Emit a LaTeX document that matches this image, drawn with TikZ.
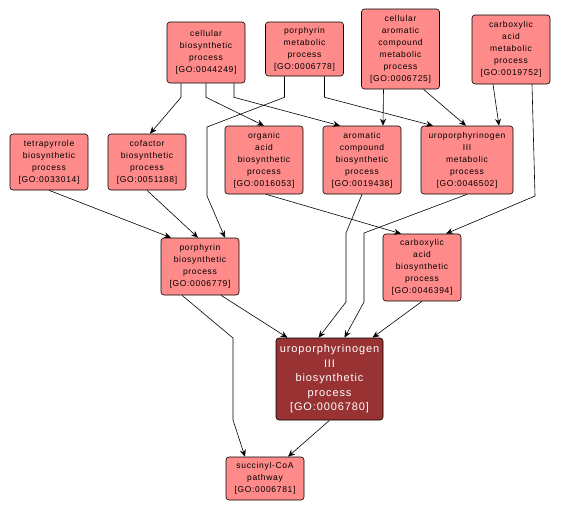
\documentclass[tikz,border=0pt]{standalone}
\usepackage{fontspec}
\newfontfamily\gofont[LetterSpace=8]{Liberation Sans}
\usetikzlibrary{arrows.meta}
\definecolor{gofill}{RGB}{255,138,138}
\definecolor{gomain}{RGB}{153,51,51}

\begin{document}
\begin{tikzpicture}[x=1pt,y=-1pt,
  gonode/.style={draw=black,fill=gofill,rounded corners=3pt,minimum width=78pt,
    line width=0.6pt,inner sep=1pt,align=center,font=\gofont\fontsize{8.5}{12}\selectfont},
  gomainnode/.style={gonode,fill=gomain,text=white,minimum width=107pt,
    font=\gofont\fontsize{11}{14.5}\selectfont},
  goedge/.style={draw=black,line width=0.6pt,-{Stealth[length=7pt,width=6pt]}}]

\useasboundingbox (0,0) rectangle (561,512);

% Nós de cima
\node[gonode,minimum height=61pt] (cbp) at (206,52.5) {cellular\\biosynthetic\\process\\{[GO:0044249]}};
\node[gonode,minimum height=54pt] (pmp) at (304.5,49) {porphyrin\\metabolic\\process\\{[GO:0006778]}};
\node[gonode,minimum height=80pt] (camp) at (400.5,49) {cellular\\aromatic\\compound\\metabolic\\process\\{[GO:0006725]}};
\node[gonode,minimum height=69pt] (cametp) at (511,49.5) {carboxylic\\acid\\metabolic\\process\\{[GO:0019752]}};

% Nós do meio
\node[gonode,minimum height=56pt] (tbp) at (49,162) {tetrapyrrole\\biosynthetic\\process\\{[GO:0033014]}};
\node[gonode,minimum height=56pt] (cofbp) at (147,162) {cofactor\\biosynthetic\\process\\{[GO:0051188]}};
\node[gonode,minimum height=68pt] (oabp) at (264,160) {organic\\acid\\biosynthetic\\process\\{[GO:0016053]}};
\node[gonode,minimum height=68pt] (acbp) at (362,160) {aromatic\\compound\\biosynthetic\\process\\{[GO:0019438]}};
\node[gonode,minimum height=68pt,minimum width=92pt] (umetp) at (467,160) {uroporphyrinogen\\III\\metabolic\\process\\{[GO:0046502]}};

\node[gonode,minimum height=57pt] (pbp) at (200,266.5) {porphyrin\\biosynthetic\\process\\{[GO:0006779]}};
\node[gonode,minimum height=67pt] (cabp) at (422,267.5) {carboxylic\\acid\\biosynthetic\\process\\{[GO:0046394]}};

% Nós de baixo
\node[gomainnode,minimum height=82pt] (ubp) at (329.5,379) {uroporphyrinogen\\III\\biosynthetic\\process\\{[GO:0006780]}};
\node[gonode,minimum height=43pt] (scp) at (265,478.5) {succinyl-CoA\\pathway\\{[GO:0006781]}};

% Arestas
\draw[goedge] ([xshift=-25pt]cbp.south) -- ++(0,14) -- ([xshift=3pt]cofbp.north);
\draw[goedge] (cbp.south) -- ++(0,14) -- (oabp.north);
\draw[goedge] ([xshift=28pt]cbp.south) -- ++(0,14) -- ([xshift=-22pt]acbp.north);
\draw[goedge] ([xshift=-20pt]pmp.south) -- ++(0,21) -- (207,127) -- (207,196) -- ([xshift=25pt]pbp.north);
\draw[goedge] ([xshift=20pt]pmp.south) -- ++(0,21) -- ([xshift=-34pt]umetp.north);
\draw[goedge] ([xshift=-17pt]camp.south) -- ([xshift=21pt]acbp.north);
\draw[goedge] ([xshift=23pt]camp.south) -- ([xshift=-1pt]umetp.north);
\draw[goedge] ([xshift=-18pt]cametp.south) -- ([xshift=32pt]umetp.north);
\draw[goedge] ([xshift=21pt]cametp.south) -- (535,196) -- ([xshift=24pt]cabp.north);

\draw[goedge] (tbp.south) -- ([xshift=-29pt]pbp.north);
\draw[goedge] (cofbp.south) -- ([xshift=-2pt]pbp.north);
\draw[goedge] ([xshift=2pt]oabp.south) -- ([xshift=-21pt]cabp.north);
\draw[goedge] (acbp.south) -- (346,233) -- (346,302) -- ([xshift=-11pt]ubp.north);
\draw[goedge] (umetp.south) -- (364,233) -- (364,302) -- ([xshift=15pt]ubp.north);
\draw[goedge] (cabp.south) -- ([xshift=43pt]ubp.north);
\draw[goedge] ([xshift=21pt]pbp.south) -- ([xshift=-42pt]ubp.north);
\draw[goedge] ([xshift=-18pt]pbp.south) -- (233,338) -- (233,420) -- ([xshift=-20pt]scp.north);
\draw[goedge] (ubp.south) -- ([xshift=23pt]scp.north);

\end{tikzpicture}
\end{document}
